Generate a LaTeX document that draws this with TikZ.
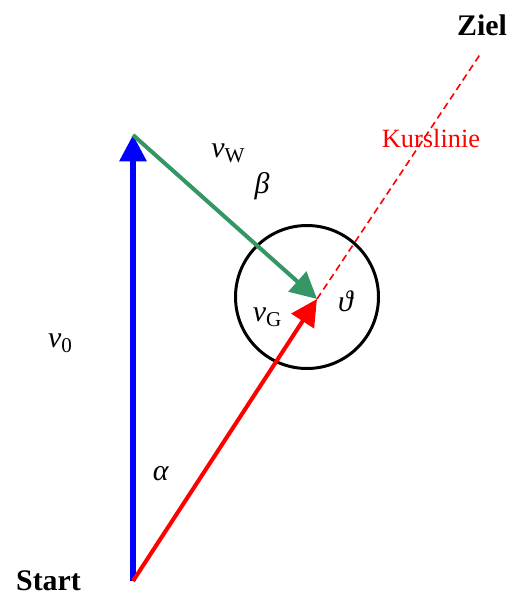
\documentclass[tikz,border=0pt]{standalone}
\usepackage{fontspec}
\setmainfont{Liberation Serif}
\usetikzlibrary{arrows.meta}

\definecolor{windgreen}{RGB}{52,150,100}
\newcommand{\vsub}[1]{\textit{v}\raisebox{-0.35ex}{\fontsize{12}{12}\selectfont #1}}

\begin{document}
\begin{tikzpicture}[
    lbl/.style={font=\fontsize{17}{20}\selectfont, inner sep=0pt},
    place/.style={font=\fontsize{17}{20}\selectfont\bfseries, inner sep=0pt},
    vec/.style={line width=2.6pt, -{Triangle[length=15pt, width=15pt]}}
]
\useasboundingbox (0,0) rectangle (10.2,-11.92);

% Points
\coordinate (start) at (2.66, -11.62);
\coordinate (top) at (2.66, -2.70);
\coordinate (tip) at (6.34, -5.98);
\coordinate (ziel) at (9.62, -1.06);

% Circle round the tip
\draw[line width=1.7pt] (6.14, -5.94) circle (1.43);

% Course line
\draw[red, line width=0.9pt, dash pattern=on 4pt off 2.5pt] (tip) -- (ziel);

% Vectors
\draw[vec, blue, line width=2.9pt] (start) -- (top);
\draw[vec, windgreen, line width=2.3pt] (top) -- (tip);
\draw[vec, red, line width=2.3pt] (start) -- (tip);

% Labels
\node[place] (zl) at (9.64, -0.50) {Ziel};
\node[place] (st) at (0.97, -11.62) {Start};
\node[lbl, red, font=\fontsize{15}{17}\selectfont] (kl) at (8.62, -2.76) {Kurslinie};
\node[lbl] (vw) at (4.56, -3.06) {\vsub{W}};
\node[lbl] (beta) at (5.24, -3.72) {\textit{β}};
\node[lbl] (theta) at (6.92, -6.02) {\textit{ϑ}};
\node[lbl] (vg) at (5.34, -6.34) {\vsub{G}};
\node[lbl] (v0) at (1.20, -6.86) {\vsub{0}};
\node[lbl] (alpha) at (3.22, -9.48) {\textit{α}};

\end{tikzpicture}
\end{document}
